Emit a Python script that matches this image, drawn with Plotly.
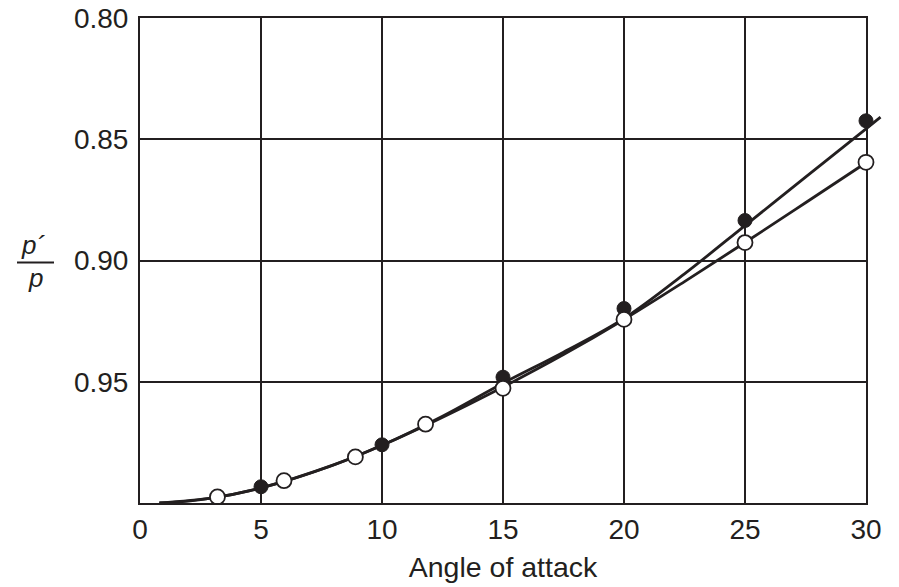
import plotly.graph_objects as go

# Data
filled_x = [5, 10, 15, 20, 25, 30]
filled_y = [0.9933, 0.9760, 0.9481, 0.9198, 0.8835, 0.8424]

open_x = [3.2, 5.95, 8.9, 11.8, 15, 20, 25, 30]
open_y = [0.9975, 0.9908, 0.9810, 0.9675, 0.9527, 0.9243, 0.8926, 0.8595]

filled_curve_x = [0.8, 3, 5, 8, 10, 12.5, 15, 17.5, 20, 22.5, 25, 27.5, 30, 30.6]
filled_curve_y = [1.0, 0.9979, 0.9938, 0.9843, 0.9762, 0.9642, 0.9506, 0.9378, 0.9239,
                  0.9055, 0.8856, 0.8656, 0.8457, 0.8409]

open_curve_x = [0.8, 2, 3.2, 4.5, 6, 7.5, 8.9, 10, 11.8, 13.5, 15, 17.5, 20, 22.5, 25, 27.5, 30]
open_curve_y = [1.0, 0.9992, 0.9976, 0.9950, 0.9910, 0.9861, 0.9808, 0.9762, 0.9680, 0.9598,
                0.9522, 0.9388, 0.9243, 0.9087, 0.8926, 0.8762, 0.8597]

x_ticks = [0, 5, 10, 15, 20, 25, 30]
y_ticks = [0.80, 0.85, 0.90, 0.95]
y_tick_labels = ["0.80", "0.85", "0.90", "0.95"]

INK = "#231f20"
FONT = "Liberation Sans, Arial, Helvetica, sans-serif"

L, R, T, B = 140, 33, 18, 84
W, H = 899, 587
PW = W - L - R          # width of the framed plot area
X_MAX = 30
EXTRA_PX = 16           # curves run a little past the frame, as in the reference
main_dom_end = PW / (PW + EXTRA_PX)
x2_max = X_MAX * (PW + EXTRA_PX) / PW

fig = go.Figure()
common = dict(xaxis="x2", yaxis="y2", showlegend=False, hoverinfo="skip")
fig.add_trace(go.Scatter(x=[None], y=[None], mode="markers", showlegend=False, hoverinfo="skip"))
fig.add_trace(go.Scatter(x=filled_curve_x, y=filled_curve_y, mode="lines",
                         line=dict(color=INK, width=2.8, shape="spline", smoothing=1.0), **common))
fig.add_trace(go.Scatter(x=open_curve_x, y=open_curve_y, mode="lines",
                         line=dict(color=INK, width=2.8, shape="spline", smoothing=1.0), **common))
fig.add_trace(go.Scatter(x=filled_x, y=filled_y, mode="markers",
                         marker=dict(symbol="circle", size=14, color=INK,
                                     line=dict(color=INK, width=1)), **common))
fig.add_trace(go.Scatter(x=open_x, y=open_y, mode="markers",
                         marker=dict(symbol="circle", size=15, color="white",
                                     line=dict(color=INK, width=1.8)), **common))

fig.update_layout(
    width=W, height=H,
    margin=dict(l=L, r=R - EXTRA_PX, t=T, b=B),
    paper_bgcolor="white", plot_bgcolor="rgba(0,0,0,0)",
    font=dict(family=FONT, size=28, color=INK),
    xaxis=dict(range=[0, X_MAX], domain=[0, main_dom_end], tickvals=x_ticks, showgrid=True,
               gridcolor=INK, gridwidth=1.8, zeroline=False, showline=True, linecolor=INK,
               linewidth=2, mirror=True, ticks="",
               automargin=False, tickfont=dict(size=28, family=FONT, color=INK),
               title=dict(text="Angle of attack", font=dict(size=28.5, family=FONT, color=INK),
                          standoff=13)),
    yaxis=dict(range=[1.0, 0.8], domain=[0, 1], tickvals=y_ticks, ticktext=y_tick_labels,
               showgrid=True, gridcolor=INK, gridwidth=1.8, zeroline=False, showline=True,
               linecolor=INK, linewidth=2, mirror=True, ticks="outside", ticklen=4,
               tickcolor="rgba(0,0,0,0)", automargin=False,
               tickfont=dict(size=28, family=FONT, color=INK)),
    xaxis2=dict(range=[0, x2_max], domain=[0, 1], anchor="y2", visible=False,
                showgrid=False, zeroline=False, fixedrange=True),
    yaxis2=dict(range=[1.0, 0.8], domain=[0, 1], anchor="x2", visible=False,
                showgrid=False, zeroline=False, fixedrange=True),
)

# fraction label p'/p
fig.add_annotation(x=0, y=0.90, xref="paper", yref="y", text="<i>p´</i>", showarrow=False,
                   xanchor="center", yanchor="bottom", xshift=-107, yshift=-1,
                   font=dict(size=26, family=FONT, color=INK))
fig.add_annotation(x=0, y=0.90, xref="paper", yref="y", text="<i>p</i>", showarrow=False,
                   xanchor="center", yanchor="top", xshift=-105, yshift=0,
                   font=dict(size=26, family=FONT, color=INK))
fig.add_shape(type="line", xref="paper", yref="y",
              x0=(17 - L) / (PW + EXTRA_PX), x1=(54 - L) / (PW + EXTRA_PX),
              y0=0.9008, y1=0.9008, line=dict(color=INK, width=2))

fig.write_html("out.html")
